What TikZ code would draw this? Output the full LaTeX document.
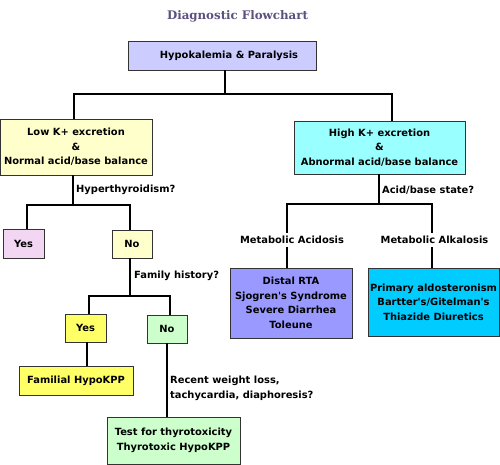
\documentclass[tikz,border=0pt]{standalone}
\usepackage{fontspec}
\setmainfont{DejaVu Sans}
\newfontfamily\titlefont{DejaVu Serif}
\usetikzlibrary{calc}
\definecolor{cTop}{HTML}{CCCCFF}
\definecolor{cPale}{HTML}{FFFFCC}
\definecolor{cPink}{HTML}{F2D6F2}
\definecolor{cYel}{HTML}{FFFF66}
\definecolor{cMint}{HTML}{CCFFCC}
\definecolor{cCyan}{HTML}{99FFFF}
\definecolor{cViolet}{HTML}{9999FF}
\definecolor{cSky}{HTML}{00CCFF}
\definecolor{cTitle}{HTML}{5C5080}
\definecolor{cBorder}{HTML}{333333}
\newcommand{\apos}{\textquotesingle}
\begin{document}
\begin{tikzpicture}[x=1pt,y=-1pt,
  box/.style={draw=cBorder,line width=0.9pt,inner sep=0pt,align=center,
    font=\fontsize{9.9}{14.6}\selectfont\bfseries},
  lbl/.style={inner sep=1pt,font=\fontsize{9.9}{14.6}\selectfont\bfseries},
  conn/.style={line width=1.8pt,black}]
\useasboundingbox (0,0) rectangle (500,465);
\fill[white] (0,0) rectangle (500,465);
\node[font=\titlefont\fontsize{11.8}{15}\selectfont\bfseries,text=cTitle] (title) at (237.5,16) {Diagnostic Flowchart};

\node[box,fill=cTop,minimum width=188pt,minimum height=29pt] (top) at (222,55.5) {\hspace*{14pt}Hypokalemia \& Paralysis};
\node[box,fill=cPale,minimum width=152pt,minimum height=56pt] (low) at (76,147) {Low K+ excretion\\\&\\Normal acid/base balance};
\node[box,fill=cCyan,minimum width=171pt,minimum height=53pt] (high) at (379.5,147.5) {High K+ excretion\\\&\\Abnormal acid/base balance};
\node[box,fill=cPink,minimum width=41pt,minimum height=29pt] (yes1) at (23.5,243.5) {Yes};
\node[box,fill=cPale,minimum width=40pt,minimum height=28pt] (no1) at (132,244) {No};
\node[box,fill=cYel,minimum width=41pt,minimum height=28pt] (yes2) at (85.5,328) {Yes};
\node[box,fill=cMint,minimum width=40pt,minimum height=28pt] (no2) at (167,329) {No};
\node[box,fill=cYel,minimum width=114pt,minimum height=29pt] (fam) at (76,380.5) {Familial HypoKPP};
\node[box,fill=cMint,minimum width=133pt,minimum height=47pt] (test) at (173.5,440.5) {Test for thyrotoxicity\\Thyrotoxic HypoKPP};
\node[box,fill=cViolet,minimum width=122pt,minimum height=70pt] (distal) at (291,303) {Distal RTA\\Sjogren\apos s Syndrome\\Severe Diarrhea\\Toleune};
\node[box,fill=cSky,minimum width=131pt,minimum height=68pt] (alk) at (433.5,302) {Primary aldosteronism\\Bartter\apos s/Gitelman\apos s\\Thiazide Diuretics};

\node[lbl,anchor=west] (qhyper) at (75,190) {Hyperthyroidism?};
\node[lbl,anchor=west] (qfam) at (133,276) {Family history?};
\node[lbl,anchor=west] (qacid) at (381,190) {Acid/base state?};
\node[lbl,align=left,anchor=west,font=\fontsize{9.9}{15}\selectfont\bfseries] (qrecent) at (169,388.5) {Recent weight loss,\\tachycardia, diaphoresis?};
\node[lbl,inner sep=0pt,minimum height=14pt] (macid) at (292,240) {Metabolic Acidosis};
\node[lbl,inner sep=0pt,minimum height=14pt] (malk) at (434.5,240) {Metabolic Alkalosis};

\coordinate (t0) at (225,70);
\coordinate (j1) at (225,94);
\coordinate (lin) at (74,119);
\coordinate (hin) at (392,121);
\draw[conn] (t0) -- (j1);
\draw[conn] (lin) |- (j1) -| (hin);

\coordinate (l0) at (73,175);
\coordinate (j2) at (73,205);
\draw[conn] (l0) -- (j2);
\draw[conn] (yes1.north -| 27,0) |- (j2) -| (no1.north -| 130,0);

\coordinate (n0) at (130,258);
\coordinate (j3) at (130,296);
\draw[conn] (n0) -- (j3);
\draw[conn] (yes2.north -| 89,0) |- (j3) -| (no2.north -| 170,0);

\draw[conn] (yes2.south -| 87,0) -- (fam.north -| 87,0);
\draw[conn] (no2.south) -- (test.north -| no2.south);

\coordinate (h0) at (379,174);
\coordinate (j4) at (379,204);
\draw[conn] (h0) -- (j4);
\draw[conn] (macid.north -| 287,0) |- (j4) -| (malk.north -| 432,0);
\draw[conn] (macid.south -| 287,0) -- (distal.north -| 287,0);
\draw[conn] (malk.south -| 432,0) -- (alk.north -| 432,0);
\end{tikzpicture}
\end{document}
